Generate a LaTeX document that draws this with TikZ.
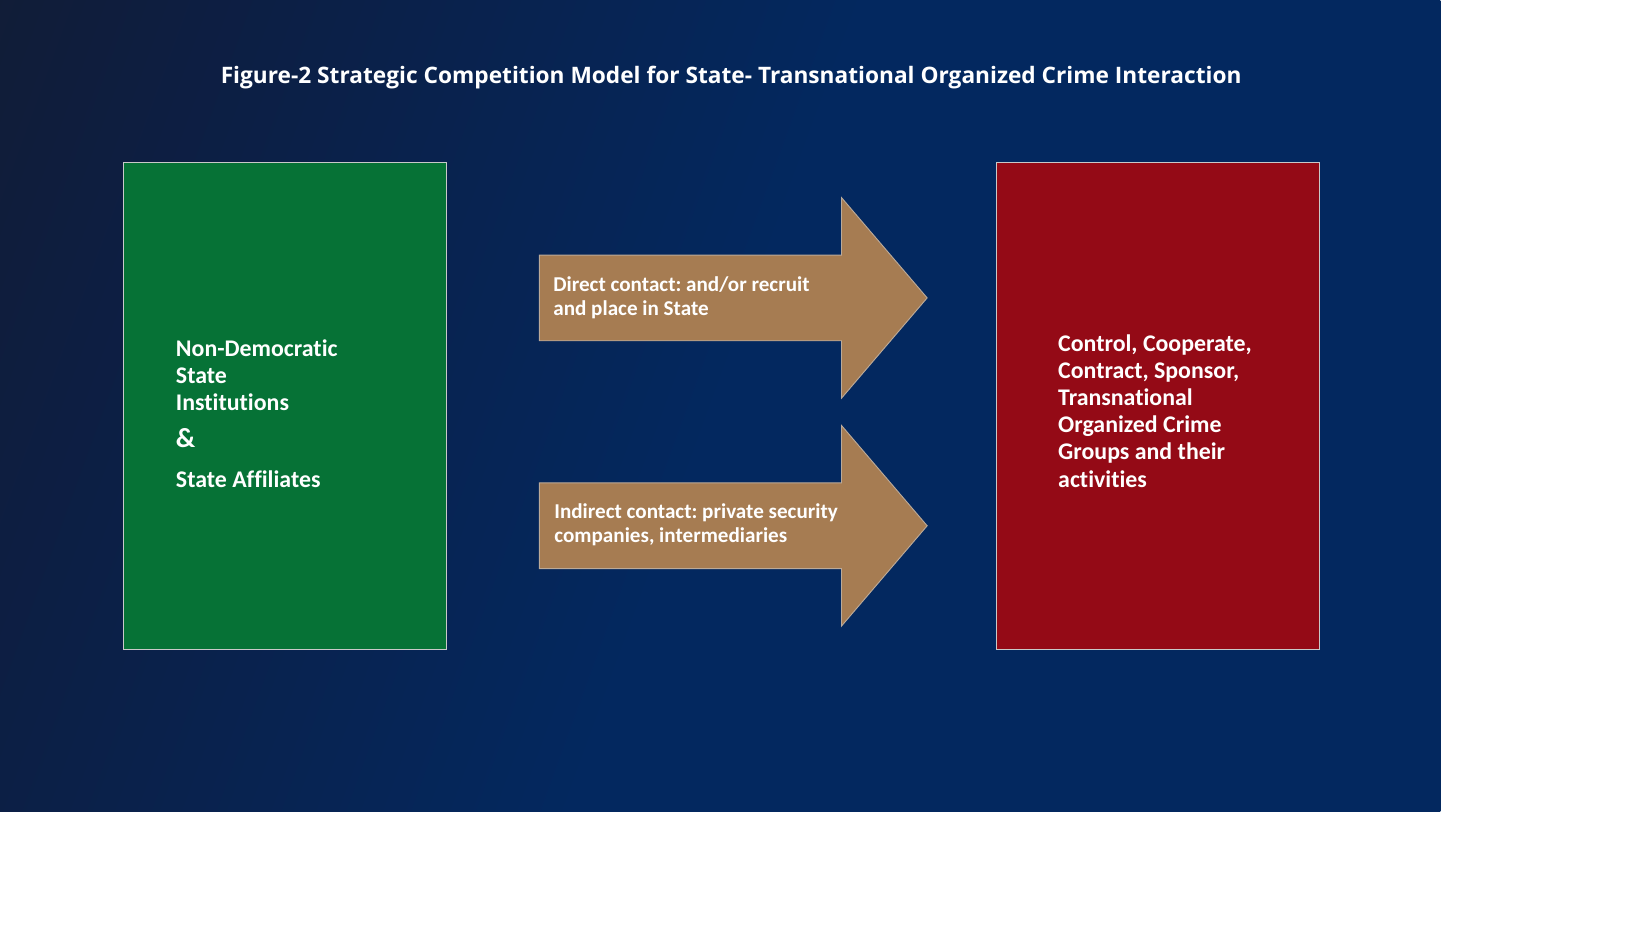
\documentclass[tikz,border=0pt]{standalone}
\usepackage{fontspec}
\setmainfont{Carlito}[Ligatures=NoCommon]
\newfontfamily\headfont{Open Sans}
\frenchspacing

\definecolor{bgdark}{HTML}{191A20}
\definecolor{bgmid}{HTML}{0D1E42}
\definecolor{bgnavy}{HTML}{03285F}
\definecolor{bgblue}{HTML}{024084}
\definecolor{stategreen}{HTML}{067236}
\definecolor{crimered}{HTML}{940A16}
\definecolor{contacttan}{HTML}{A67C52}
\definecolor{edgegrey}{HTML}{C9C9C9}

\pgfdeclareverticalshading{nightsky}{100bp}{color(0bp)=(bgblue); color(18bp)=(bgnavy); color(50bp)=(bgnavy); color(74bp)=(bgmid); color(100bp)=(bgdark)}

\begin{document}
\begin{tikzpicture}[x=0.02cm, y=-0.02cm,
   panel/.style={draw=edgegrey, line width=0.5pt, minimum width=6.18cm, minimum height=9.32cm, inner sep=0pt},
   paneltext/.style={text=white, font=\fontsize{13}{14.8}\selectfont\bfseries, align=left, anchor=base west, inner sep=0pt},
   contact/.style={fill=contacttan, draw=edgegrey!60!contacttan, line width=0.5pt},
   contacttext/.style={text=white, font=\fontsize{11.5}{13.1}\selectfont\bfseries, align=left, anchor=base west, inner sep=0pt}]
\useasboundingbox (0,0) rectangle (1568,884);
\shade[shading=nightsky, shading angle=70] (0,0) rectangle (1378,776);
%
             \node [text=white, font=\headfont\fontsize{12.35}{15}\selectfont\bfseries, anchor=base] at (699.5,80) (title) {Figure-2 Strategic Competition Model for State- Transnational Organized Crime Interaction};
             \node [panel, fill=stategreen] at (272.5,388) (state) {};
             \node [panel, fill=crimered] at (1108,388) (crime) {};
             \node [paneltext] at (168,466) (state text) {Non-Democratic\\State\\Institutions\\[5.5pt]{\fontsize{15}{15}\selectfont\&}\\[6.5pt]State Affiliates};
             \node [paneltext] at (1012,466) (crime text) {Control, Cooperate,\\Contract, Sponsor,\\Transnational\\Organized Crime\\Groups and their\\activities};
             \coordinate (direct tail) at (516,285);
             \coordinate (direct tip) at (887,285);
             \coordinate (indirect tail) at (516,503);
             \coordinate (indirect tip) at (887,503);
%
\filldraw[contact] (direct tail) ++(0,-41) -- ++(289,0) -- ++(0,-55) -- (direct tip) -- ++(-82,96) -- ++(0,-55) -- ++(-289,0) -- cycle;
\filldraw[contact] (indirect tail) ++(0,-41) -- ++(289,0) -- ++(0,-55) -- (indirect tip) -- ++(-82,96) -- ++(0,-55) -- ++(-289,0) -- cycle;
             \node [contacttext] at (529,302) (direct text) {Direct contact: and/or recruit\\and place in State};
             \node [contacttext] at (530,519) (indirect text) {Indirect contact: private security\\companies, intermediaries};
\end{tikzpicture}
\end{document}
